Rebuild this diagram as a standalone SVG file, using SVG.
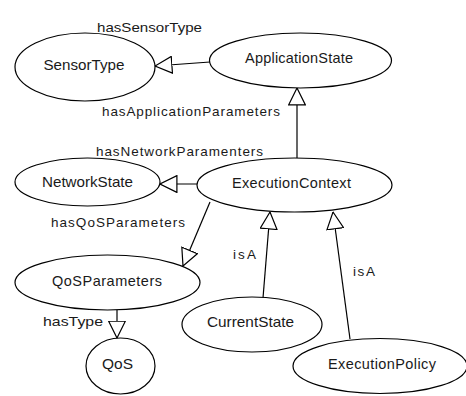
<svg xmlns="http://www.w3.org/2000/svg" width="466" height="396" viewBox="0 0 466 396">
<style>
.n{fill:#fff;stroke:#000;stroke-width:1.2}
.c{stroke:#000;stroke-width:1.2;fill:none;marker-end:url(#tri)}
text{font-family:"Liberation Sans",Arial,sans-serif;fill:#1a1a1a}
.t{font-size:14.5px;text-anchor:middle}
.l{font-size:13.5px}
</style>
<defs>
<marker id="tri" viewBox="0 0 18 18" refX="17.5" refY="9" markerWidth="18" markerHeight="18" markerUnits="userSpaceOnUse" orient="auto">
<path d="M0.6,0.6 L17.5,9 L0.6,17.4 Z" fill="#fff" stroke="#000" stroke-width="1.2"/>
</marker>
</defs>
<rect width="466" height="396" fill="#fff"/>
<g id="connectors">
<line class="c" x1="210" y1="62" x2="155" y2="66"/>
<line class="c" x1="297" y1="158" x2="297" y2="88"/>
<line class="c" x1="197" y1="184" x2="160" y2="184"/>
<line class="c" x1="210" y1="202" x2="183" y2="266"/>
<line class="c" x1="117" y1="310" x2="117" y2="338"/>
<line class="c" x1="263" y1="298" x2="270" y2="212"/>
<line class="c" x1="350" y1="339" x2="333" y2="212"/>
</g>
<g id="labels">
<text class="l" x="97" y="32" textLength="105" lengthAdjust="spacingAndGlyphs">hasSensorType</text>
<text class="l" x="102" y="116" textLength="178" lengthAdjust="spacing">hasApplicationParameters</text>
<text class="l" x="96" y="156" textLength="167" lengthAdjust="spacing">hasNetworkParamenters</text>
<text class="l" x="51" y="227" textLength="134" lengthAdjust="spacing">hasQoSParameters</text>
<text class="l" x="233" y="259" textLength="23" lengthAdjust="spacing">isA</text>
<text class="l" x="353" y="276" textLength="22" lengthAdjust="spacing">isA</text>
<text class="l" x="43" y="326" textLength="60" lengthAdjust="spacingAndGlyphs">hasType</text>
</g>
<g id="SensorType">
<ellipse class="n" cx="85" cy="67" rx="70" ry="34"/>
<text class="t" x="84" y="70" textLength="81" lengthAdjust="spacingAndGlyphs">SensorType</text>
</g>
<g id="ApplicationState">
<ellipse class="n" cx="300.5" cy="60.5" rx="91" ry="27.5"/>
<text class="t" x="299" y="63" textLength="108" lengthAdjust="spacing">ApplicationState</text>
</g>
<g id="NetworkState">
<ellipse class="n" cx="87.5" cy="182" rx="72.5" ry="24"/>
<text class="t" x="87.5" y="187" textLength="91" lengthAdjust="spacingAndGlyphs">NetworkState</text>
</g>
<g id="ExecutionContext">
<ellipse class="n" cx="294.5" cy="185" rx="97.5" ry="27"/>
<text class="t" x="291.5" y="188" textLength="119" lengthAdjust="spacing">ExecutionContext</text>
</g>
<g id="QoSParameters">
<ellipse class="n" cx="107.5" cy="282.5" rx="92.5" ry="27.5"/>
<text class="t" x="107" y="286" textLength="110" lengthAdjust="spacing">QoSParameters</text>
</g>
<g id="QoS">
<ellipse class="n" cx="120.5" cy="366" rx="34.5" ry="28"/>
<text class="t" x="117.5" y="369" textLength="31" lengthAdjust="spacingAndGlyphs">QoS</text>
</g>
<g id="CurrentState">
<ellipse class="n" cx="252" cy="324.5" rx="70" ry="27.5"/>
<text class="t" x="250.5" y="327" textLength="87" lengthAdjust="spacingAndGlyphs">CurrentState</text>
</g>
<g id="ExecutionPolicy">
<ellipse class="n" cx="380" cy="366" rx="87" ry="27.5"/>
<text class="t" x="382" y="369" textLength="108" lengthAdjust="spacing">ExecutionPolicy</text>
</g>
</svg>
